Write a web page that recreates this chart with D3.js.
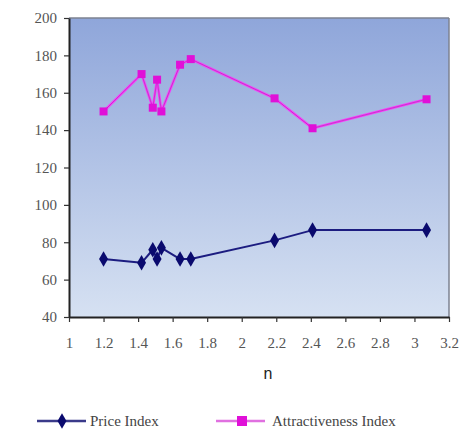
<!DOCTYPE html>
<html><head><meta charset="utf-8">
<script src="https://cdn.jsdelivr.net/npm/d3@7"></script>
<style>body{margin:0;background:#fff;}svg{display:block;}</style>
</head><body>
<svg id="c" width="461" height="430"></svg>
<script>
const nValues = [1.2, 1.42, 1.485, 1.51, 1.535, 1.643, 1.705, 2.19, 2.41, 3.07];
const priceIndex = [71, 69, 76, 71, 77, 71, 71, 81, 86.5, 86.5];
const attractIndex = [150, 170, 152, 167, 150, 175, 178, 157, 141, 156.5];
const xTicks = [1, 1.2, 1.4, 1.6, 1.8, 2, 2.2, 2.4, 2.6, 2.8, 3, 3.2];
const yTicks = [40, 60, 80, 100, 120, 140, 160, 180, 200];
const seriesNames = ["Price Index", "Attractiveness Index"];

const svg = d3.select("#c");
const L = 69, R = 449, T = 18, B = 317;
const x = d3.scaleLinear().domain([1, 3.2]).range([L, R]);
const y = d3.scaleLinear().domain([40, 200]).range([B, T]);

const defs = svg.append("defs");
const g = defs.append("linearGradient").attr("id", "bg").attr("x1", 0).attr("y1", 0).attr("x2", 0).attr("y2", 1);
g.append("stop").attr("offset", "0%").attr("stop-color", "#8fa6da");
g.append("stop").attr("offset", "100%").attr("stop-color", "#d6e1f2");

svg.append("rect").attr("x", L).attr("y", T).attr("width", R - L).attr("height", B - T).attr("fill", "url(#bg)");
svg.append("line").attr("x1", L).attr("x2", R).attr("y1", T).attr("y2", T).attr("stroke", "#7d8290").attr("stroke-width", 1.5);
svg.append("line").attr("x1", R).attr("x2", R).attr("y1", T).attr("y2", B).attr("stroke", "#7d8290").attr("stroke-width", 1.5);

const xAxis = svg.append("g").attr("transform", `translate(0,${B})`)
  .call(d3.axisBottom(x).tickValues(xTicks).tickSize(5).tickSizeOuter(0).tickFormat(d3.format("")));
const yAxis = svg.append("g").attr("transform", `translate(${L},0)`)
  .call(d3.axisLeft(y).tickValues(yTicks).tickSize(5).tickSizeOuter(0));
[xAxis, yAxis].forEach(a => {
  a.select(".domain").attr("stroke", "#222").attr("stroke-width", 2);
  a.selectAll(".tick line").attr("stroke", "#333").attr("stroke-width", 1.2);
  a.selectAll(".tick text").attr("font-family", "Liberation Serif, serif").attr("font-size", 15).attr("fill", "#555");
});
xAxis.selectAll(".tick text").attr("y", 26).attr("dy", "0.32em");
yAxis.selectAll(".tick text").attr("x", -12);

svg.append("text").attr("x", (L + R) / 2 + 9).attr("y", 379).attr("text-anchor", "middle")
  .attr("font-family", "Liberation Sans, Arial, sans-serif").attr("font-size", 16).attr("fill", "#222").text("n");

const line = d3.line();
const pPts = nValues.map((n, i) => [x(n), y(priceIndex[i])]);
const aPts = nValues.map((n, i) => [x(n), y(attractIndex[i])]);

svg.append("path").attr("d", line(aPts)).attr("fill", "none").attr("stroke", "#ff33ff").attr("stroke-width", 2.5).attr("stroke-linejoin", "round");
svg.append("path").attr("d", line(aPts)).attr("fill", "none").attr("stroke", "#c040c8").attr("stroke-width", 1).attr("stroke-linejoin", "round");
svg.selectAll(".sq").data(aPts).enter().append("rect").attr("x", d => d[0] - 4).attr("y", d => d[1] - 4)
  .attr("width", 8).attr("height", 8).attr("fill", "#e010d8");

svg.append("path").attr("d", line(pPts)).attr("fill", "none").attr("stroke", "#1c1c80").attr("stroke-width", 2).attr("stroke-linejoin", "round");
const diamond = d3.symbol().type(d3.symbolDiamond).size(70);
svg.selectAll(".dm").data(pPts).enter().append("path").attr("d", diamond)
  .attr("transform", d => `translate(${d[0]},${d[1]})`).attr("fill", "#0a0a6e");

// legend
const ly = 421;
svg.append("line").attr("x1", 37).attr("x2", 86).attr("y1", ly).attr("y2", ly).attr("stroke", "#3a3a8a").attr("stroke-width", 2.5);
svg.append("path").attr("d", diamond).attr("transform", `translate(62,${ly})`).attr("fill", "#0a0a6e");
svg.append("text").attr("x", 90).attr("y", ly + 5).attr("font-family", "Liberation Serif, serif").attr("font-size", 15).attr("fill", "#444").text(seriesNames[0]);
svg.append("line").attr("x1", 216).attr("x2", 265).attr("y1", ly).attr("y2", ly).attr("stroke", "#e070e0").attr("stroke-width", 2.5);
svg.append("rect").attr("x", 237).attr("y", ly - 5).attr("width", 10).attr("height", 10).attr("fill", "#e010d8");
svg.append("text").attr("x", 272).attr("y", ly + 5).attr("font-family", "Liberation Serif, serif").attr("font-size", 15).attr("fill", "#444").text(seriesNames[1]);
</script>
</body></html>
